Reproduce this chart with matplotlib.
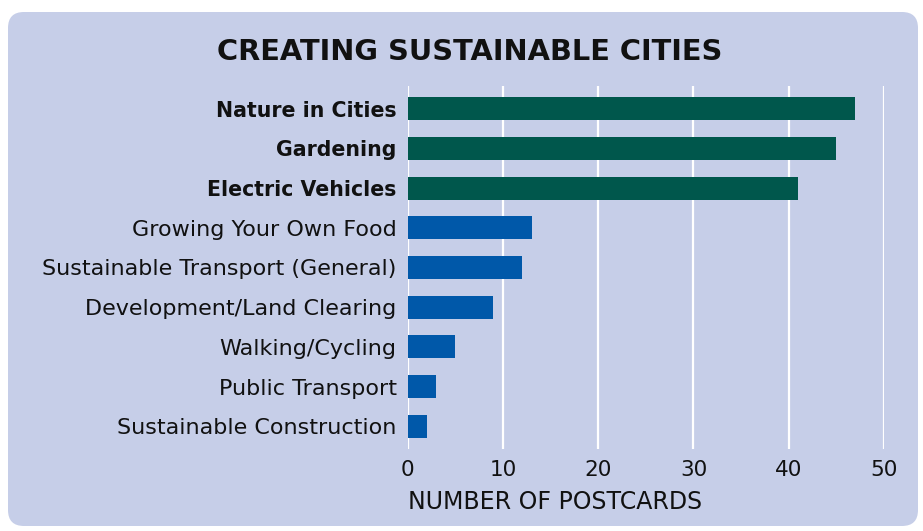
import matplotlib.pyplot as plt
from matplotlib.patches import FancyBboxPatch

categories = ["Nature in Cities", "Gardening", "Electric Vehicles",
              "Growing Your Own Food", "Sustainable Transport (General)",
              "Development/Land Clearing", "Walking/Cycling",
              "Public Transport", "Sustainable Construction"]
values = [47, 45, 41, 13, 12, 9, 5, 3, 2]
highlight = [True, True, True, False, False, False, False, False, False]
ticks = [0, 10, 20, 30, 40, 50]

W, H = 923, 531
bg = "#c6cee8"
green = "#00574c"
blue = "#0058a9"
font = "DejaVu Sans"

fig = plt.figure(figsize=(W / 100, H / 100), dpi=100)
fig.patch.set_facecolor("white")

# card background behind the chart
back = fig.add_axes([0, 0, 1, 1])
back.set_xlim(0, W)
back.set_ylim(H, 0)
back.axis("off")
back.add_patch(FancyBboxPatch((8, 12), 910, 514,
                              boxstyle="round,pad=0,rounding_size=16",
                              facecolor=bg, edgecolor="none"))

ax = fig.add_axes([407.7 / W, (H - 449) / H, (884 - 407.7) / W, (449 - 86) / H])
ax.set_facecolor("none")
ypos = list(range(len(categories)))
colors = [green if h else blue for h in highlight]
ax.barh(ypos, values, height=0.58, color=colors, zorder=3)
ax.set_xlim(0, 50)
ax.set_ylim(len(categories) - 0.43, -0.57)
ax.set_xticks(ticks)
ax.set_xticklabels([str(t) for t in ticks], fontsize=15.5, family=font, color="#111111")
ax.set_yticks(ypos)
ax.set_yticklabels(categories, fontsize=16, family=font, color="#111111")
for lbl, h in zip(ax.get_yticklabels(), highlight):
    if h:
        lbl.set_fontweight("bold")
        lbl.set_fontsize(14.8)
ax.tick_params(length=0, pad=8)
ax.tick_params(axis="y", pad=8)
ax.grid(axis="x", color="white", linewidth=1.6, zorder=1)
for s in ax.spines.values():
    s.set_visible(False)

ax.set_xlabel("NUMBER OF POSTCARDS", fontsize=17, family=font, color="#111111",
              loc="left", labelpad=7)
fig.text(470 / W, 1 - 52 / H, "CREATING SUSTAINABLE CITIES", ha="center", va="center",
         fontsize=20.8, fontweight="bold", family=font, color="#111111")

fig.savefig("out.png", dpi=100)
